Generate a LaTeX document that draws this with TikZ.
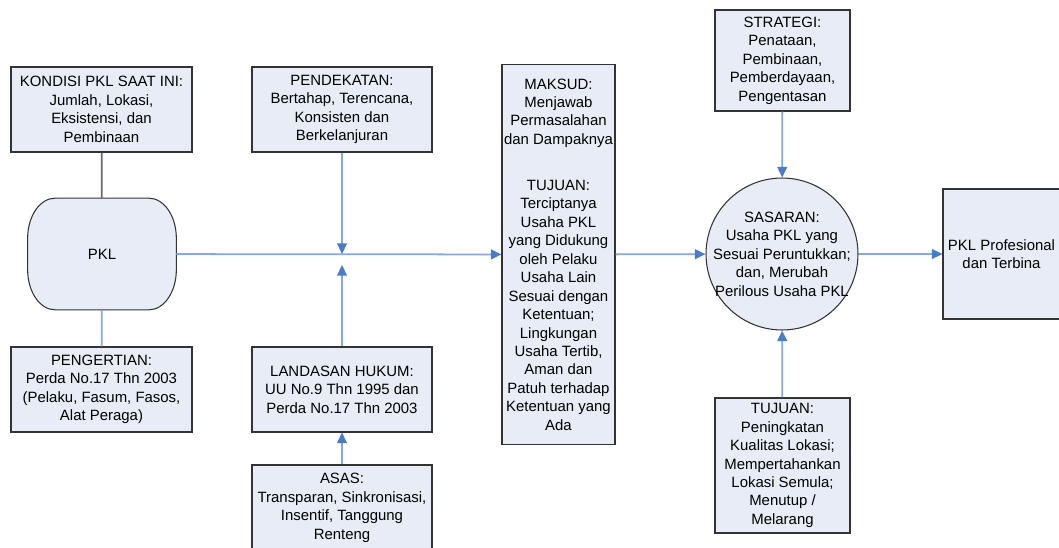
\documentclass[tikz,border=0pt]{standalone}
\usepackage{fontspec}
\setmainfont{Liberation Sans}
\usetikzlibrary{arrows.meta,positioning}
\definecolor{boxfill}{HTML}{E7ECF6}
\definecolor{boxline}{HTML}{333333}
\definecolor{linkblue}{HTML}{84A8DC}
\definecolor{tipblue}{HTML}{4A7BC6}
\definecolor{linkgray}{HTML}{6A6A6A}

\begin{document}
\begin{tikzpicture}[
    x=0.02cm, y=-0.02cm,
    box/.style={rectangle, draw=boxline, fill=boxfill, line width=0.6pt, align=center, inner sep=1pt, font=\fontsize{8.5}{10.5}\selectfont},
    termbox/.style={rectangle, align=center, minimum width=2.96cm, minimum height=2.22cm, font=\fontsize{8.5}{10.5}\selectfont},
    circbox/.style={box, circle, minimum size=3.04cm, inner sep=-0.3cm},
    corner/.style={x radius=0.55cm, y radius=0.8cm},
    link/.style={line width=1pt, linkblue},
    arrow/.style={link, -{Triangle[length=6pt, width=5.5pt, color=tipblue]}}
]
    \clip (0,0) rectangle (1059,548);

    % Left column
    \node[box, minimum width=3.62cm, minimum height=1.7cm] (kondisi) at (101.5,109.5) {KONDISI PKL SAAT INI:\\Jumlah, Lokasi,\\Eksistensi, dan\\Pembinaan};
    \node[termbox] (pkl) at (102,254) {};
    \filldraw[draw=boxline, fill=boxfill, line width=0.6pt]
        ([xshift=0.55cm]pkl.north west) -- ([xshift=-0.55cm]pkl.north east)
        arc[start angle=90, end angle=0, corner] -- ([yshift=0.8cm]pkl.south east)
        arc[start angle=0, end angle=-90, corner] -- ([xshift=0.55cm]pkl.south west)
        arc[start angle=270, end angle=180, corner] -- ([yshift=-0.8cm]pkl.north west)
        arc[start angle=180, end angle=90, corner] -- cycle;
    \node[termbox] at (pkl) {PKL};
    \node[box, minimum width=3.62cm, minimum height=1.7cm] (pengertian) at (101.5,389.5) {PENGERTIAN:\\Perda No.17 Thn 2003\\(Pelaku, Fasum, Fasos,\\Alat Peraga)};

    % Middle column
    \node[box, minimum width=3.6cm, minimum height=1.7cm] (pendekatan) at (342,109.5) {PENDEKATAN:\\Bertahap, Terencana,\\Konsisten dan\\Berkelanjuran};
    \node[box, minimum width=3.6cm, minimum height=1.7cm] (landasan) at (342,389.5) {LANDASAN HUKUM:\\UU No.9 Thn 1995 dan\\Perda No.17 Thn 2003};
    \node[box, minimum width=3.6cm, minimum height=1.72cm] (asas) at (342,508) {ASAS:\\Transparan, Sinkronisasi,\\Insentif, Tanggung\\Renteng};
    \coordinate (jtop) at (342,254);
    \coordinate (jbot) at (342,265);

    % Maksud dan tujuan
    \node[box, minimum width=2.26cm, minimum height=7.62cm] (maksud) at (558.5,254.5) {MAKSUD:\\Menjawab\\Permasalahan\\dan Dampaknya\\[15.7pt]TUJUAN:\\Terciptanya\\Usaha PKL\\yang Didukung\\oleh Pelaku\\Usaha Lain\\Sesuai dengan\\Ketentuan;\\Lingkungan\\Usaha Tertib,\\Aman dan\\Patuh terhadap\\Ketentuan yang\\Ada};

    % Sasaran
    \node[box, minimum width=2.7cm, minimum height=2.02cm] (strategi) at (782.5,60.5) {STRATEGI:\\Penataan,\\Pembinaan,\\Pemberdayaan,\\Pengentasan};
    \node[circbox] (sasaran) at (782,254) {SASARAN:\\Usaha PKL yang\\Sesuai Peruntukkan;\\dan, Merubah\\Perilous Usaha PKL};
    \node[box, minimum width=2.7cm, minimum height=2.7cm] (tujuan) at (782.5,465.5) {TUJUAN:\\Peningkatan\\Kualitas Lokasi;\\Mempertahankan\\Lokasi Semula;\\Menutup /\\Melarang};

    % Hasil
    \node[box, minimum width=2.34cm, minimum height=2.6cm] (hasil) at (1001.5,254) {PKL Profesional\\dan Terbina};

    % Connectors
    \draw[link, linkgray] (kondisi) -- (pkl);
    \draw[link] (pkl) -- (pengertian);
    \draw[arrow] (pkl) -- (maksud);
    \draw[arrow] (pendekatan) -- (jtop);
    \draw[arrow] (landasan) -- (jbot);
    \draw[arrow] (asas) -- (landasan);
    \draw[arrow] (maksud) -- (sasaran);
    \draw[arrow] (strategi) -- (sasaran);
    \draw[arrow] (tujuan) -- (sasaran);
    \draw[arrow] (sasaran) -- (hasil);
\end{tikzpicture}
\end{document}
